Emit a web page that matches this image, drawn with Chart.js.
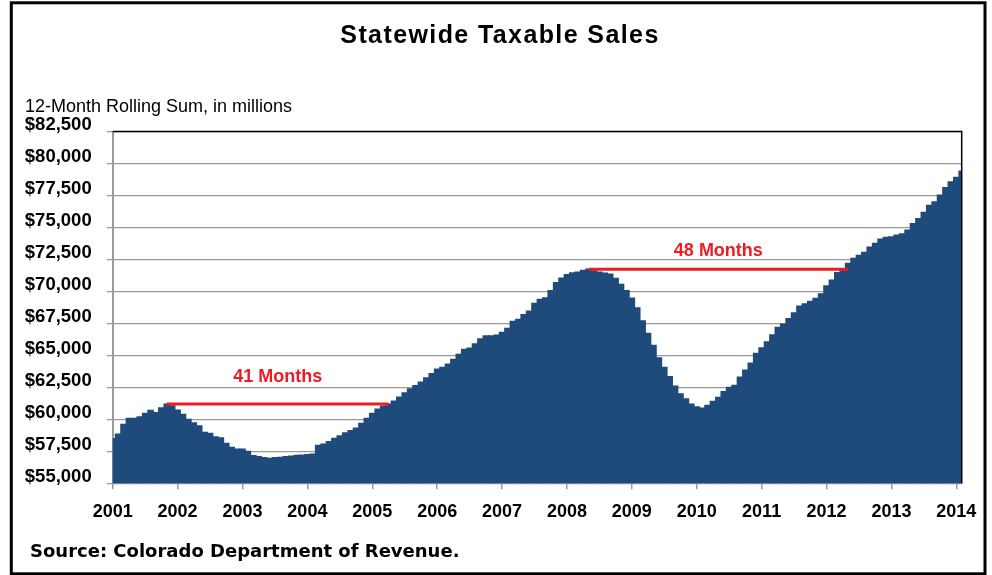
<!DOCTYPE html>
<html>
<head>
<meta charset="utf-8">
<title>Statewide Taxable Sales</title>
<script src="https://cdn.jsdelivr.net/npm/chart.js@4.4.1/dist/chart.umd.min.js"></script>
<style>
    html, body { margin: 0; padding: 0; background: #fff; }
    canvas { display: block; }
</style>
</head>
<body>
<canvas id="sales" width="992" height="575"></canvas>
<script>
// 12-month rolling sum, $ millions, one value per month from Jan 2001 to Feb 2014
const sales = [
    58500, 58850, 59600, 60080, 60080, 60200, 60470, 60700, 60520, 60900, 61200, 61060,
    60730, 60390, 60000, 59730, 59500, 58990, 58900, 58640, 58560, 58130, 57810, 57680,
    57670, 57500, 57160, 57080, 57000, 56950, 57000, 57030, 57080, 57130, 57190, 57210,
    57240, 57290, 57970, 58070, 58250, 58520, 58700, 58950, 59110, 59320, 59690, 60080,
    60470, 60800, 61040, 61190, 61430, 61740, 62070, 62380, 62630, 62910, 63250, 63580,
    63930, 64070, 64320, 64690, 65080, 65470, 65570, 65910, 66300, 66520, 66520, 66590,
    66800, 67110, 67650, 67820, 68180, 68460, 69060, 69380, 69500, 70070, 70690, 71050,
    71310, 71450, 71510, 71650, 71740, 71600, 71500, 71440, 71360, 71030, 70550, 70060,
    69480, 68710, 67690, 66730, 65780, 64810, 64060, 63350, 62590, 62000, 61600, 61200,
    60980, 60870, 61090, 61400, 61720, 62160, 62510, 62650, 63300, 63850, 64400, 65160,
    65590, 66060, 66610, 67190, 67450, 67870, 68330, 68860, 69030, 69220, 69450, 69800,
    70440, 70880, 71470, 71730, 72190, 72590, 72810, 73060, 73470, 73750, 74090, 74220,
    74270, 74400, 74500, 74790, 75310, 75700, 76180, 76720, 77000, 77520, 78110, 78560,
    78910, 79400
];

const years = ['2001', '2002', '2003', '2004', '2005', '2006', '2007',
               '2008', '2009', '2010', '2011', '2012', '2013', '2014'];

// months needed to get back to the previous peak
const spanText = ['41 Months', '48 Months'];
const spanFrom = [10, 88];
const spanTo = [51, 136];
const spanLevel = [61200, 71740];

const blue = '#1f4a7c';
const red = '#ed1c24';
const gray = '#9a9a9a';
const labelLift = [22, 13];

Chart.defaults.font.family = '"Liberation Sans", Arial, sans-serif';
Chart.defaults.color = '#000';

const extras = {
    id: 'extras',
    beforeDraw(chart) {
        const ctx = chart.ctx;
        ctx.save();
        ctx.fillStyle = '#fff';
        ctx.fillRect(0, 0, chart.width, chart.height);
        ctx.restore();
    },
    afterDatasetsDraw(chart) {
        const ctx = chart.ctx;
        const a = chart.chartArea;
        const x = chart.scales.x;
        const y = chart.scales.y;
        ctx.save();
        ctx.strokeStyle = '#000';
        ctx.lineWidth = 1.5;
        ctx.beginPath();
        ctx.moveTo(a.left, a.top);
        ctx.lineTo(a.right, a.top);
        ctx.lineTo(a.right, a.bottom);
        ctx.stroke();

        ctx.fillStyle = red;
        ctx.font = 'bold 18px "Liberation Sans", Arial, sans-serif';
        ctx.textAlign = 'center';
        ctx.textBaseline = 'alphabetic';
        spanText.forEach((t, k) => {
            const cx = (x.getPixelForValue(spanFrom[k]) + x.getPixelForValue(spanTo[k])) / 2;
            ctx.fillText(t, cx, y.getPixelForValue(spanLevel[k]) - labelLift[k]);
        });
        ctx.restore();
    },
    afterDraw(chart) {
        const ctx = chart.ctx;
        ctx.save();
        ctx.fillStyle = '#000';
        ctx.textBaseline = 'alphabetic';

        ctx.font = 'bold 25px "Liberation Sans", Arial, sans-serif';
        ctx.letterSpacing = '1.4px';
        ctx.textAlign = 'center';
        ctx.fillText('Statewide Taxable Sales', 500, 43);
        ctx.letterSpacing = '0px';

        ctx.textAlign = 'left';
        ctx.font = '18px "Liberation Sans", Arial, sans-serif';
        ctx.fillText('12-Month Rolling Sum, in millions', 25, 111.5);

        ctx.font = 'bold 18px "DejaVu Sans", sans-serif';
        ctx.fillText('Source: Colorado Department of Revenue.', 30, 557);

        ctx.strokeStyle = '#000';
        ctx.lineWidth = 3;
        ctx.strokeRect(11.3, 2.8, 973.7, 571);
        ctx.restore();
    }
};

new Chart(document.getElementById('sales'), {
    type: 'bar',
    data: {
        datasets: [
            {
                type: 'bar',
                data: sales.map((v, i) => ({ x: i, y: v })),
                backgroundColor: blue,
                borderWidth: 0,
                inflateAmount: 0.6,
                barPercentage: 1,
                categoryPercentage: 1,
                order: 2
            },
            ...spanText.map((t, k) => ({
                type: 'line',
                data: [{ x: spanFrom[k], y: spanLevel[k] }, { x: spanTo[k], y: spanLevel[k] }],
                borderColor: red,
                borderWidth: 3,
                pointRadius: 0,
                fill: false,
                order: 1
            }))
        ]
    },
    options: {
        responsive: false,
        animation: false,
        layout: {
            padding: { top: 131.5, right: 30.3, bottom: 0, left: 0 }
        },
        plugins: {
            legend: { display: false },
            tooltip: { enabled: false }
        },
        scales: {
            x: {
                type: 'linear',
                min: 0,
                max: sales.length - 1,
                offset: false,
                afterFit: (axis) => { axis.height = 91.7; },
                afterBuildTicks: (axis) => {
                    axis.ticks = years.map((yr, k) => ({ value: k * 12 }));
                },
                grid: {
                    offset: false,
                    drawOnChartArea: false,
                    drawTicks: true,
                    tickLength: 6,
                    color: gray,
                    lineWidth: 1.5
                },
                border: { color: gray, width: 2 },
                ticks: {
                    autoSkip: false,
                    maxRotation: 0,
                    padding: 11.6,
                    font: { size: 18, weight: 'bold' },
                    callback: (v) => years[v / 12]
                }
            },
            y: {
                min: 55000,
                max: 82500,
                beginAtZero: false,
                afterFit: (axis) => { axis.width = 112.7; },
                grid: {
                    drawTicks: true,
                    tickLength: 6,
                    color: gray,
                    lineWidth: 1.3
                },
                border: { color: gray, width: 2 },
                ticks: {
                    stepSize: 2500,
                    autoSkip: false,
                    padding: 15,
                    labelOffset: -6.5,
                    font: { size: 18.5, weight: 'bold' },
                    callback: (v) => '$' + v.toLocaleString('en-US')
                }
            }
        }
    },
    plugins: [extras]
});
</script>
</body>
</html>
